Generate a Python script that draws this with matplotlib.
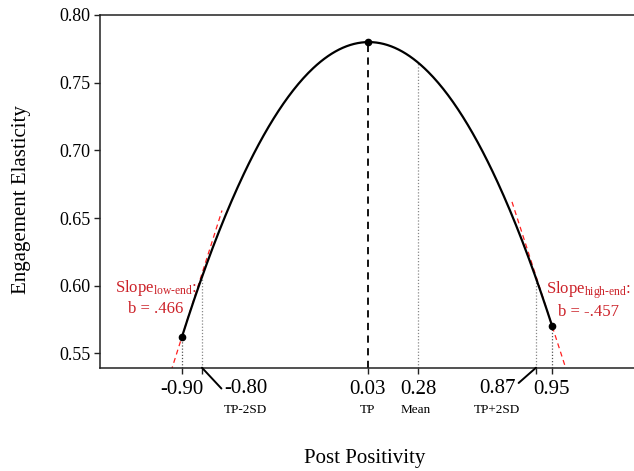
import matplotlib
matplotlib.use("Agg")
import matplotlib.pyplot as plt
import numpy as np

plt.rcParams.update({
    "font.family": ["Liberation Serif", "DejaVu Serif"],
    "mathtext.fontset": "custom",
    "mathtext.rm": "Liberation Serif",
    "mathtext.it": "Liberation Serif:italic",
    "mathtext.bf": "Liberation Serif:bold",
})

# quadratic fit: y = b0 + b1*x + b2*x^2
b0, b1, b2 = 0.7797, 0.0169, -0.2495
x_low, x_high = -0.90, 0.95
tp, mean_x = 0.03, 0.28
tp_minus, tp_plus = -0.80, 0.87
slope_low, slope_high = 0.466, -0.457

tick_vals = [-0.90, -0.80, 0.03, 0.28, 0.87, 0.95]
tick_text = ["-0.90", "", "0.03", "0.28", "", "0.95"]
sub_vals = [-0.80, 0.03, 0.28, 0.87]
sub_text = ["TP-2SD", "TP", "Mean", "TP+2SD"]
y_ticks = [0.55, 0.60, 0.65, 0.70, 0.75, 0.80]


def quad(x):
    return b0 + b1 * x + b2 * x ** 2


fig = plt.figure(figsize=(6.34, 4.71), dpi=100)
ax = fig.add_axes([0.1577, 0.2193, 0.8423, 0.7489])

xs = np.linspace(x_low, x_high, 300)
ax.plot(xs, quad(xs), color="black", lw=1.6, zorder=3)

ymin = 0.5395
# reference lines from the axis up to the curve
for xv, col in [(x_low, "#555555"), (tp_minus, "#888888"), (mean_x, "#888888"),
                (tp_plus, "#888888"), (x_high, "#555555")]:
    ax.plot([xv, xv], [ymin, quad(xv)], ls=(0, (1, 1.5)), color=col, lw=0.9, zorder=2)
ax.plot([tp, tp], [ymin, quad(tp)], ls=(0, (4, 3)), color="black", lw=1.3, zorder=2)

# tangent lines at the ends
for x0, s, xr in [(x_low, slope_low, (x_low - 0.2, x_low + 0.2)),
                  (x_high, slope_high, (x_high - 0.2, x_high + 0.2))]:
    tx = np.array(xr)
    ax.plot(tx, quad(x0) + s * (tx - x0), ls=(0, (4, 3)), color="#ff2020", lw=0.9, zorder=2)

ax.plot([x_low, tp, x_high], [quad(x_low), quad(tp), quad(x_high)], "o",
        color="black", ms=4.5, zorder=4)

red = "#cc2229"
ax.text(-1.03, 0.591, "Slope$_{\\mathrm{low\\text{-}end}}$:\nb = .466", color=red,
        fontsize=12, ha="center", va="center", linespacing=1.25)
ax.text(1.135, 0.5895, "Slope$_{\\mathrm{high\\text{-}end}}$:\nb = -.457", color=red,
        fontsize=12, ha="center", va="center", linespacing=1.25)

ax.set_xlim(-1.31, 1.36)
ax.set_ylim(ymin, 0.80)
ax.set_xticks(tick_vals)
ax.set_xticklabels(tick_text, fontsize=15)
ax.set_yticks(y_ticks)
ax.set_yticklabels([f"{v:.2f}" for v in y_ticks], fontsize=13)
ax.tick_params(axis="both", direction="out", length=4, width=1, pad=3,
               color="#222222", labelcolor="black")
ax.tick_params(axis="x", pad=5)
for side in ["left", "bottom", "top"]:
    ax.spines[side].set_linewidth(1.1)
    ax.spines[side].set_color("#222222")
ax.spines["right"].set_visible(False)

# offset labels with leader lines
blend = ("data", "axes fraction")
ax.annotate("", xy=(tp_minus, 0), xycoords=blend, xytext=(14, -15),
            textcoords="offset points",
            arrowprops=dict(arrowstyle="-", lw=1.4, color="black", shrinkA=0, shrinkB=0))
ax.annotate("-0.80", xy=(tp_minus, 0), xycoords=blend, xytext=(31.5, -15),
            textcoords="offset points", ha="center", va="center", fontsize=15)
ax.annotate("", xy=(tp_plus, 0), xycoords=blend, xytext=(-12.5, -11),
            textcoords="offset points",
            arrowprops=dict(arrowstyle="-", lw=1.4, color="black", shrinkA=0, shrinkB=0))
ax.annotate("0.87", xy=(tp_plus, 0), xycoords=blend, xytext=(-28, -15),
            textcoords="offset points", ha="center", va="center", fontsize=15)

sub_dx = {"TP-2SD": 31.5, "TP": 0, "Mean": -1.5, "TP+2SD": -28}
for xv, lab in zip(sub_vals, sub_text):
    ax.annotate(lab, xy=(xv, 0), xycoords=blend, xytext=(sub_dx[lab], -30.5),
                textcoords="offset points", ha="center", va="center", fontsize=9.5)

fig.text(365 / 634, 1 - 458 / 471, "Post Positivity", ha="center", va="center", fontsize=15)
fig.text(22 / 634, 1 - 200 / 471, "Engagement Elasticity", ha="center", va="center",
         rotation=90, fontsize=15)

fig.savefig("out.png", dpi=100)
